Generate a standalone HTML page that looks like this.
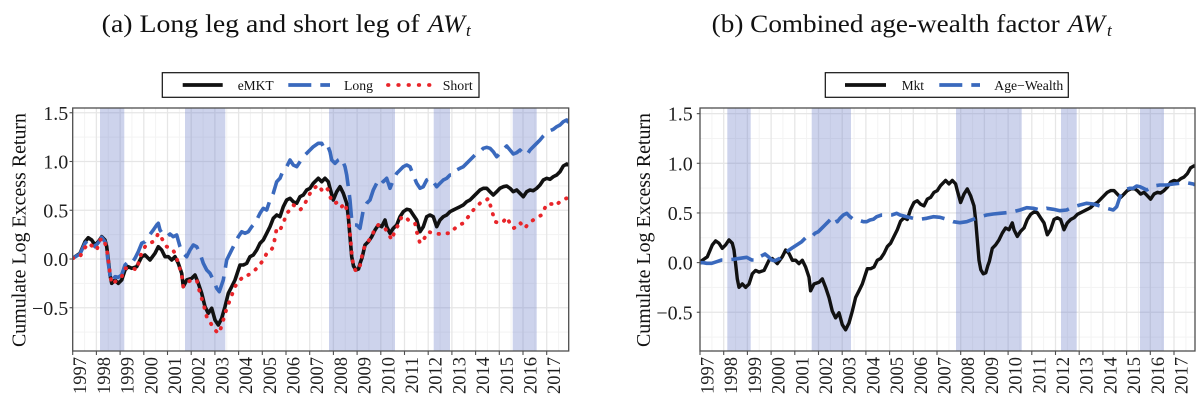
<!DOCTYPE html>
<html>
<head>
<meta charset="utf-8">
<style>
  html,body{margin:0;padding:0;background:#fff;}
  svg{display:block;}
  text{font-family:"Liberation Serif","DejaVu Serif",serif;}
</style>
</head>
<body>
<svg width="1200" height="413" viewBox="0 0 1200 413" xmlns="http://www.w3.org/2000/svg">
<defs>
  <clipPath id="cl"><rect x="72.7" y="108" width="496" height="243"/></clipPath>
  <clipPath id="cr"><rect x="700" y="108" width="495" height="243"/></clipPath>
</defs>
<rect width="1200" height="413" fill="#fff"/>

<!-- Titles -->
<text x="101.7" y="32" font-size="25" textLength="318" lengthAdjust="spacingAndGlyphs" fill="#111">(a) Long leg and short leg of</text>
<text x="428" y="32" font-size="25" font-style="italic" textLength="37" lengthAdjust="spacingAndGlyphs" fill="#111">AW</text>
<text x="466" y="36" font-size="17" font-style="italic" fill="#111">t</text>

<text x="711.7" y="32" font-size="25" textLength="348" lengthAdjust="spacingAndGlyphs" fill="#111">(b) Combined age-wealth factor</text>
<text x="1068" y="32" font-size="25" font-style="italic" textLength="37" lengthAdjust="spacingAndGlyphs" fill="#111">AW</text>
<text x="1107" y="36" font-size="17" font-style="italic" fill="#111">t</text>

<!-- ===== LEFT PANEL ===== -->
<g>
  <rect x="72.7" y="108" width="496" height="243" fill="#fff"/>
  <g stroke="#f3f3f3" stroke-width="1">
    <line x1="72.7" x2="568.7" y1="137.1" y2="137.1"/>
    <line x1="72.7" x2="568.7" y1="185.9" y2="185.9"/>
    <line x1="72.7" x2="568.7" y1="234.6" y2="234.6"/>
    <line x1="72.7" x2="568.7" y1="283.4" y2="283.4"/>
    <line x1="72.7" x2="568.7" y1="332.1" y2="332.1"/>
  </g>
  <g stroke="#f3f3f3" stroke-width="1">
    <line y1="108" y2="351" x1="84.55" x2="84.55"/><line y1="108" y2="351" x1="108.25" x2="108.25"/>
    <line y1="108" y2="351" x1="131.95" x2="131.95"/><line y1="108" y2="351" x1="155.65" x2="155.65"/>
    <line y1="108" y2="351" x1="179.35" x2="179.35"/><line y1="108" y2="351" x1="203.05" x2="203.05"/>
    <line y1="108" y2="351" x1="226.75" x2="226.75"/><line y1="108" y2="351" x1="250.45" x2="250.45"/>
    <line y1="108" y2="351" x1="274.15" x2="274.15"/><line y1="108" y2="351" x1="297.85" x2="297.85"/>
    <line y1="108" y2="351" x1="321.55" x2="321.55"/><line y1="108" y2="351" x1="345.25" x2="345.25"/>
    <line y1="108" y2="351" x1="368.95" x2="368.95"/><line y1="108" y2="351" x1="392.65" x2="392.65"/>
    <line y1="108" y2="351" x1="416.35" x2="416.35"/><line y1="108" y2="351" x1="440.05" x2="440.05"/>
    <line y1="108" y2="351" x1="463.75" x2="463.75"/><line y1="108" y2="351" x1="487.45" x2="487.45"/>
    <line y1="108" y2="351" x1="511.15" x2="511.15"/><line y1="108" y2="351" x1="534.85" x2="534.85"/>
    <line y1="108" y2="351" x1="558.55" x2="558.55"/>
  </g>
  <g stroke="#e6e6e6" stroke-width="1.3">
    <line x1="72.7" x2="568.7" y1="112.75" y2="112.75"/>
    <line x1="72.7" x2="568.7" y1="161.5" y2="161.5"/>
    <line x1="72.7" x2="568.7" y1="210.25" y2="210.25"/>
    <line x1="72.7" x2="568.7" y1="259" y2="259"/>
    <line x1="72.7" x2="568.7" y1="307.75" y2="307.75"/>
  </g>
  <g stroke="#e6e6e6" stroke-width="1.3">
    <line y1="108" y2="351" x1="96.4" x2="96.4"/><line y1="108" y2="351" x1="120.1" x2="120.1"/>
    <line y1="108" y2="351" x1="143.8" x2="143.8"/><line y1="108" y2="351" x1="167.5" x2="167.5"/>
    <line y1="108" y2="351" x1="191.2" x2="191.2"/><line y1="108" y2="351" x1="214.9" x2="214.9"/>
    <line y1="108" y2="351" x1="238.6" x2="238.6"/><line y1="108" y2="351" x1="262.3" x2="262.3"/>
    <line y1="108" y2="351" x1="286" x2="286"/><line y1="108" y2="351" x1="309.7" x2="309.7"/>
    <line y1="108" y2="351" x1="333.4" x2="333.4"/><line y1="108" y2="351" x1="357.1" x2="357.1"/>
    <line y1="108" y2="351" x1="380.8" x2="380.8"/><line y1="108" y2="351" x1="404.5" x2="404.5"/>
    <line y1="108" y2="351" x1="428.2" x2="428.2"/><line y1="108" y2="351" x1="451.9" x2="451.9"/>
    <line y1="108" y2="351" x1="475.6" x2="475.6"/><line y1="108" y2="351" x1="499.3" x2="499.3"/>
    <line y1="108" y2="351" x1="523" x2="523"/><line y1="108" y2="351" x1="546.7" x2="546.7"/>
  </g>
  <g fill="#7080c8" fill-opacity="0.35">
    <rect x="100" y="108" width="24.3" height="243"/>
    <rect x="185" y="108" width="40.3" height="243"/>
    <rect x="329" y="108" width="66" height="243"/>
    <rect x="433.7" y="108" width="16.3" height="243"/>
    <rect x="512.7" y="108" width="24" height="243"/>
  </g>
  <g clip-path="url(#cl)" fill="none" stroke-linejoin="round">
    <path stroke="#111" stroke-width="3.6" d="M72.7,258.3 L80,253.3 85,241.7 88.3,237.7 91.7,240 95,245 98.3,241.7 101.7,236.7 105,240 106.7,246.7 108.3,260 110,275 111.7,283.3 115,280 118.3,283.3 121.7,280 125,270 128.3,266.7 131.7,268.3 136.7,266.7 141.7,256.7 145,255 150,260 155,253.3 158.3,246.7 161.7,250 165,256.7 168.3,256.7 171.7,260 175,256.7 178.3,263.3 181.7,273.3 183.3,286.7 186.7,280 191.7,278.3 195,275 198.3,283.3 201.7,293.3 205,306.7 208.3,313.3 211.7,308.3 215,320 218.3,325 221.7,318.3 225,306.7 228.3,293.3 231.7,286.7 235,280 240,265 243.3,265 246.7,263.3 250,256.7 253.3,255 256.7,250 260,243.3 263.3,240 266.7,233.3 270,226.7 273.3,218.3 276.7,215 280,216.7 283.3,206.7 286.7,200 290,198.3 293.3,201.7 296.7,203.3 300,196.7 303.3,195 306.7,190 310,188.3 313.3,183.3 318.3,178.3 321.7,181.7 325,178.3 328.3,181.7 330,188.3 333.3,200 336.7,191.7 340,186.7 343.3,193.3 346.7,203.3 348.3,216.7 350,236.7 351.7,256.7 353.5,266 356,270 358.5,269 360.5,262 362,258 365,245 368.3,241.7 371.7,236.7 375,230 378.3,225 381.7,226.7 385,220 386.7,226.7 390,233.3 393.3,228.3 396.7,225 400,216.7 403.3,211.7 406.7,209.3 410,210 413.3,215 416.7,220 420,231.7 423.3,226.7 426.7,216.7 430,215 433.3,216.7 436.7,226.7 440,220 443.3,216.7 446.7,215 450,211.7 453.3,210 456.7,208.3 460,206.7 463.3,205 466.7,201.7 470,200 473.3,196.7 476.7,193.3 480,190 483.3,188.3 486.7,188.3 490,191.7 493.3,195 496.7,191.7 500,188.3 503.3,186.7 506.7,186 510,188.3 513.3,191.7 516.7,190 520,193.3 523.3,196.7 526.7,191.7 530,190 533.3,190.7 536.7,188.3 540,185 543.3,180 546.7,178.3 550,179.3 553.3,176.7 556.7,175 560,171.7 563.3,166 566.7,164 568.7,165"/>
    <path stroke="#3a69bd" stroke-width="3.6" stroke-dasharray="23 9" d="M72.7,258.3 L80,254 85,243.3 88.3,240 91.7,241.7 95,246.7 98.3,242.7 101.7,237.3 105,241.7 106.7,250 108.3,263.3 110,275 111.7,281.7 115,276.7 118.3,277.3 121.7,275 125,265 128.3,261.7 131.7,263.3 135,258.3 138.3,251.7 141.7,243.3 145,241.7 148.3,236.7 153.3,230 156.7,225 158.3,223.3 160,230 163.3,235 166.7,236.7 170,234 173.3,236.7 176.7,235 180,246.7 183.3,253.3 186.7,256.7 190,250 193.3,245 196.7,246.7 200,253.3 203.3,263.3 206.7,270 210,273.3 213.3,280 216.7,288.3 219.3,291.7 223.3,280 226.7,260 230,253.3 233.3,246.7 238.3,236.7 241.7,231.7 245,233.3 248.3,231.7 251.7,226.7 255,223.3 260,213.3 263.3,208.3 266.7,210 270,200 273.3,193.3 276.7,181.7 280,178.3 283.3,170 286.7,166.7 290,160 293.3,165 296.7,166.7 300,161.7 303.3,156.7 306.7,153.3 310,150 313.3,146.7 318.3,143.3 321.7,143.3 325,150 328.3,147.3 330,151.7 331.7,160 335,163.3 338.3,160 341.7,158.3 345,166.7 346.7,175 348.3,186.7 350,200 351.7,220 353.3,225 356.7,225 360,228.3 363.3,210 366.7,203.3 370,200 373.3,190 376.7,183.3 380,178.3 383.3,181.7 386.7,178.3 390,188.3 393.3,180 396.7,173.3 400,170 403.3,166.7 406.7,165 410,166.7 413.3,175 416.7,183.3 420,188.3 423.3,186.7 426.7,180 430,178.3 433.3,181.7 436.7,186.7 440,183.3 443.3,180 446.7,178.3 450,175 453.3,175 456.7,170 460,168.3 463.3,166.7 466.7,163.3 470,160 473.3,156.7 476.7,153.3 480,151.7 483.3,148.3 486.7,147.3 490,148.3 493.3,151.7 496.7,156.7 500,153.3 503.3,149.3 506.7,146 510,150 513.3,154 516.7,152.7 520,150 523.3,153.3 526.7,155 530,150 533.3,146.7 536.7,143.3 540,140 543.3,136 546.7,132.7 550,130.7 553.3,129.3 556.7,126.7 560,125 563.3,121.7 566.7,120 568.7,122.7"/>
    <path stroke="#e8252a" stroke-width="3.8" stroke-linecap="round" stroke-dasharray="0.5 8.5" d="M72.7,258.3 L80,256.7 83.3,250 88.3,243.3 93.3,246.7 96.7,250 100,240 103.3,238.3 106.7,248.3 110,273.3 111.7,284 115,281.7 118.3,280 121.7,276.7 125,268.3 128.3,268.3 133.3,268.3 136.7,270 140,256.7 145,246.7 148.3,243.3 153.3,241.7 156.7,236.7 158.3,233.3 161.7,238.3 166.7,246.7 171.7,248.3 175,253.3 178.3,263.3 181.7,275 183.3,286.7 188.3,281.7 191.7,280 196.7,280 200,293.3 203.3,303.3 206.7,316.7 210,321.7 213.3,328.3 216.7,331.7 219.3,333.3 223.3,320 226.7,308.3 230,300 235,286.7 238.3,281.7 241.7,278.3 245,278.3 248.3,275 253.3,271.7 258.3,266.7 263.3,260 266.7,253.3 270,251.7 273.3,246.7 276.7,228.3 280,230 283.3,223.3 286.7,213.3 290,210 293.3,205 296.7,206.7 300,210 303.3,206.7 306.7,200 311.7,190 318.3,185 321.7,190 325,186.7 328.3,190 331.7,201.7 335,203.3 338.3,201.7 341.7,206.7 345,203.3 346.7,210 348.3,216.7 350,233.3 351.7,253.3 353.5,267 356,271 358.5,270 360.5,264 363,250 366.7,243.3 371.7,236.7 375,228.3 378.3,225 381.7,226.7 385,228.3 388.3,233.3 391.7,240 395,230 398.3,225 401.7,216.7 405,216.7 410,221.7 415,223.3 416.7,231.7 420,243.3 423.3,240 428.3,231.7 433.3,233.3 440,234 445,233.3 450,233.3 453.3,230 458.3,225 463.3,223.3 468.3,216.7 471.7,211.7 476.7,206.7 480,203.3 485,201.7 488.3,198.3 491.7,210 495,221.7 500,223.3 503.3,221.7 506.7,217.3 510,223.3 513.3,228.3 516.7,226.7 520,222.7 525,228.3 528.3,223.3 533.3,220 538.3,216.7 541.7,215 546.7,204 551.7,204 555,206 560,201.7 563.3,199.3 566.7,198.3"/>
  </g>
  <rect x="72.7" y="108" width="496" height="243" fill="none" stroke="#4d4d4d" stroke-width="1.3"/>
  <g stroke="#4d4d4d" stroke-width="1.1">
    <line x1="69.5" x2="72.7" y1="112.75" y2="112.75"/>
    <line x1="69.5" x2="72.7" y1="161.5" y2="161.5"/>
    <line x1="69.5" x2="72.7" y1="210.25" y2="210.25"/>
    <line x1="69.5" x2="72.7" y1="259" y2="259"/>
    <line x1="69.5" x2="72.7" y1="307.75" y2="307.75"/>
  </g>
  <g font-size="20" fill="#1e1e1e" text-anchor="end">
    <text x="68.3" y="119.75">1.5</text>
    <text x="68.3" y="168.5">1.0</text>
    <text x="68.3" y="217.25">0.5</text>
    <text x="68.3" y="266">0.0</text>
    <text x="68.3" y="314.75">−0.5</text>
  </g>
  <g stroke="#4d4d4d" stroke-width="1.1">
    <line y1="351" y2="355" x1="72.7" x2="72.7"/><line y1="351" y2="355" x1="96.4" x2="96.4"/>
    <line y1="351" y2="355" x1="120.1" x2="120.1"/><line y1="351" y2="355" x1="143.8" x2="143.8"/>
    <line y1="351" y2="355" x1="167.5" x2="167.5"/><line y1="351" y2="355" x1="191.2" x2="191.2"/>
    <line y1="351" y2="355" x1="214.9" x2="214.9"/><line y1="351" y2="355" x1="238.6" x2="238.6"/>
    <line y1="351" y2="355" x1="262.3" x2="262.3"/><line y1="351" y2="355" x1="286" x2="286"/>
    <line y1="351" y2="355" x1="309.7" x2="309.7"/><line y1="351" y2="355" x1="333.4" x2="333.4"/>
    <line y1="351" y2="355" x1="357.1" x2="357.1"/><line y1="351" y2="355" x1="380.8" x2="380.8"/>
    <line y1="351" y2="355" x1="404.5" x2="404.5"/><line y1="351" y2="355" x1="428.2" x2="428.2"/>
    <line y1="351" y2="355" x1="451.9" x2="451.9"/><line y1="351" y2="355" x1="475.6" x2="475.6"/>
    <line y1="351" y2="355" x1="499.3" x2="499.3"/><line y1="351" y2="355" x1="523" x2="523"/>
    <line y1="351" y2="355" x1="546.7" x2="546.7"/>
  </g>
  <g font-size="18.5" fill="#1e1e1e" text-anchor="end">
    <text transform="translate(86.2,357) rotate(-90)">1997</text>
    <text transform="translate(109.9,357) rotate(-90)">1998</text>
    <text transform="translate(133.6,357) rotate(-90)">1999</text>
    <text transform="translate(157.3,357) rotate(-90)">2000</text>
    <text transform="translate(181,357) rotate(-90)">2001</text>
    <text transform="translate(204.7,357) rotate(-90)">2002</text>
    <text transform="translate(228.4,357) rotate(-90)">2003</text>
    <text transform="translate(252.1,357) rotate(-90)">2004</text>
    <text transform="translate(275.8,357) rotate(-90)">2005</text>
    <text transform="translate(299.5,357) rotate(-90)">2006</text>
    <text transform="translate(323.2,357) rotate(-90)">2007</text>
    <text transform="translate(346.9,357) rotate(-90)">2008</text>
    <text transform="translate(370.6,357) rotate(-90)">2009</text>
    <text transform="translate(394.3,357) rotate(-90)">2010</text>
    <text transform="translate(418,357) rotate(-90)">2011</text>
    <text transform="translate(441.7,357) rotate(-90)">2012</text>
    <text transform="translate(465.4,357) rotate(-90)">2013</text>
    <text transform="translate(489.1,357) rotate(-90)">2014</text>
    <text transform="translate(512.8,357) rotate(-90)">2015</text>
    <text transform="translate(536.5,357) rotate(-90)">2016</text>
    <text transform="translate(560.2,357) rotate(-90)">2017</text>
  </g>
  <text transform="translate(25.5,230) rotate(-90)" font-size="20" text-anchor="middle" textLength="234" lengthAdjust="spacingAndGlyphs" fill="#111">Cumulate Log Excess Return</text>
  <rect x="162.3" y="72.7" width="316.7" height="24.6" fill="#fff" stroke="#111" stroke-width="1.2"/>
  <line x1="182.7" x2="222.7" y1="85" y2="85" stroke="#111" stroke-width="3.8"/>
  <text x="237.7" y="90" font-size="14" textLength="36" lengthAdjust="spacingAndGlyphs" fill="#111">eMKT</text>
  <line x1="288.3" x2="330" y1="85" y2="85" stroke="#3a69bd" stroke-width="3.8" stroke-dasharray="23 9"/>
  <text x="344" y="90" font-size="14" textLength="29" lengthAdjust="spacingAndGlyphs" fill="#111">Long</text>
  <line x1="388" x2="430" y1="85" y2="85" stroke="#e8252a" stroke-width="3.8" stroke-linecap="round" stroke-dasharray="0.5 9.75"/>
  <text x="442.7" y="90" font-size="14" textLength="30" lengthAdjust="spacingAndGlyphs" fill="#111">Short</text>
</g>

<!-- ===== RIGHT PANEL ===== -->
<g>
  <rect x="700" y="108" width="495" height="243" fill="#fff"/>
  <g stroke="#f3f3f3" stroke-width="1">
    <line x1="700" x2="1195" y1="138.5" y2="138.5"/>
    <line x1="700" x2="1195" y1="188.1" y2="188.1"/>
    <line x1="700" x2="1195" y1="237.8" y2="237.8"/>
    <line x1="700" x2="1195" y1="287.4" y2="287.4"/>
    <line x1="700" x2="1195" y1="337.1" y2="337.1"/>
  </g>
  <g stroke="#f3f3f3" stroke-width="1">
    <line y1="108" y2="351" x1="711.85" x2="711.85"/><line y1="108" y2="351" x1="735.55" x2="735.55"/>
    <line y1="108" y2="351" x1="759.25" x2="759.25"/><line y1="108" y2="351" x1="782.95" x2="782.95"/>
    <line y1="108" y2="351" x1="806.65" x2="806.65"/><line y1="108" y2="351" x1="830.35" x2="830.35"/>
    <line y1="108" y2="351" x1="854.05" x2="854.05"/><line y1="108" y2="351" x1="877.75" x2="877.75"/>
    <line y1="108" y2="351" x1="901.45" x2="901.45"/><line y1="108" y2="351" x1="925.15" x2="925.15"/>
    <line y1="108" y2="351" x1="948.85" x2="948.85"/><line y1="108" y2="351" x1="972.55" x2="972.55"/>
    <line y1="108" y2="351" x1="996.25" x2="996.25"/><line y1="108" y2="351" x1="1019.95" x2="1019.95"/>
    <line y1="108" y2="351" x1="1043.65" x2="1043.65"/><line y1="108" y2="351" x1="1067.35" x2="1067.35"/>
    <line y1="108" y2="351" x1="1091.05" x2="1091.05"/><line y1="108" y2="351" x1="1114.75" x2="1114.75"/>
    <line y1="108" y2="351" x1="1138.45" x2="1138.45"/><line y1="108" y2="351" x1="1162.15" x2="1162.15"/>
    <line y1="108" y2="351" x1="1185.85" x2="1185.85"/>
  </g>
  <g stroke="#e6e6e6" stroke-width="1.3">
    <line x1="700" x2="1195" y1="113.65" y2="113.65"/>
    <line x1="700" x2="1195" y1="163.3" y2="163.3"/>
    <line x1="700" x2="1195" y1="212.95" y2="212.95"/>
    <line x1="700" x2="1195" y1="262.6" y2="262.6"/>
    <line x1="700" x2="1195" y1="312.25" y2="312.25"/>
  </g>
  <g stroke="#e6e6e6" stroke-width="1.3">
    <line y1="108" y2="351" x1="723.7" x2="723.7"/><line y1="108" y2="351" x1="747.4" x2="747.4"/>
    <line y1="108" y2="351" x1="771.1" x2="771.1"/><line y1="108" y2="351" x1="794.8" x2="794.8"/>
    <line y1="108" y2="351" x1="818.5" x2="818.5"/><line y1="108" y2="351" x1="842.2" x2="842.2"/>
    <line y1="108" y2="351" x1="865.9" x2="865.9"/><line y1="108" y2="351" x1="889.6" x2="889.6"/>
    <line y1="108" y2="351" x1="913.3" x2="913.3"/><line y1="108" y2="351" x1="937" x2="937"/>
    <line y1="108" y2="351" x1="960.7" x2="960.7"/><line y1="108" y2="351" x1="984.4" x2="984.4"/>
    <line y1="108" y2="351" x1="1008.1" x2="1008.1"/><line y1="108" y2="351" x1="1031.8" x2="1031.8"/>
    <line y1="108" y2="351" x1="1055.5" x2="1055.5"/><line y1="108" y2="351" x1="1079.2" x2="1079.2"/>
    <line y1="108" y2="351" x1="1102.9" x2="1102.9"/><line y1="108" y2="351" x1="1126.6" x2="1126.6"/>
    <line y1="108" y2="351" x1="1150.3" x2="1150.3"/><line y1="108" y2="351" x1="1174" x2="1174"/>
  </g>
  <g fill="#7080c8" fill-opacity="0.35">
    <rect x="727.3" y="108" width="23.4" height="243"/>
    <rect x="811.7" y="108" width="39.3" height="243"/>
    <rect x="956" y="108" width="65.7" height="243"/>
    <rect x="1061" y="108" width="15.7" height="243"/>
    <rect x="1140" y="108" width="24" height="243"/>
  </g>
  <g clip-path="url(#cr)" fill="none" stroke-linejoin="round">
    <g transform="translate(627.3,-1.18) scale(1,1.01846)">
      <path vector-effect="non-scaling-stroke" stroke="#111" stroke-width="3.4" d="M72.7,258.3 L80,253.3 85,241.7 88.3,237.7 91.7,240 95,245 98.3,241.7 101.7,236.7 105,240 106.7,246.7 108.3,260 110,275 111.7,283.3 115,280 118.3,283.3 121.7,280 125,270 128.3,266.7 131.7,268.3 136.7,266.7 141.7,256.7 145,255 150,260 155,253.3 158.3,246.7 161.7,250 165,256.7 168.3,256.7 171.7,260 175,256.7 178.3,263.3 181.7,273.3 183.3,286.7 186.7,280 191.7,278.3 195,275 198.3,283.3 201.7,293.3 205,306.7 208.3,313.3 211.7,308.3 215,320 218.3,325 221.7,318.3 225,306.7 228.3,293.3 231.7,286.7 235,280 240,265 243.3,265 246.7,263.3 250,256.7 253.3,255 256.7,250 260,243.3 263.3,240 266.7,233.3 270,226.7 273.3,218.3 276.7,215 280,216.7 283.3,206.7 286.7,200 290,198.3 293.3,201.7 296.7,203.3 300,196.7 303.3,195 306.7,190 310,188.3 313.3,183.3 318.3,178.3 321.7,181.7 325,178.3 328.3,181.7 330,188.3 333.3,200 336.7,191.7 340,186.7 343.3,193.3 346.7,203.3 348.3,216.7 350,236.7 351.7,256.7 353.5,266 356,270 358.5,269 360.5,262 362,258 365,245 368.3,241.7 371.7,236.7 375,230 378.3,225 381.7,226.7 385,220 386.7,226.7 390,233.3 393.3,228.3 396.7,225 400,216.7 403.3,211.7 406.7,209.3 410,210 413.3,215 416.7,220 420,231.7 423.3,226.7 426.7,216.7 430,215 433.3,216.7 436.7,226.7 440,220 443.3,216.7 446.7,215 450,211.7 453.3,210 456.7,208.3 460,206.7 463.3,205 466.7,201.7 470,200 473.3,196.7 476.7,193.3 480,190 483.3,188.3 486.7,188.3 490,191.7 493.3,195 496.7,191.7 500,188.3 503.3,186.7 506.7,186 510,188.3 513.3,191.7 516.7,190 520,193.3 523.3,196.7 526.7,191.7 530,190 533.3,190.7 536.7,188.3 540,185 543.3,180 546.7,178.3 550,179.3 553.3,176.7 556.7,175 560,171.7 563.3,166 566.7,164 568.7,165"/>
    </g>
    <path stroke="#3a69bd" stroke-width="3.6" stroke-dasharray="23 9" d="M700,262.7 L703.3,262.7 706.7,263.3 711.7,263.3 716.7,261.7 721.7,260 726.7,260 733.3,259.3 740,258.3 746.7,257.3 751.7,260 756.7,260 760,256.7 765,254 768.3,256.7 771.7,260 775,260.7 780,258.3 783.3,255 786.7,251.7 791.7,248.3 796.7,245 801.7,241.7 806.7,236.7 811.7,236.7 815,233.3 818.3,231.7 821.7,228.3 825,225 828.3,221.7 831.7,218.3 835,216.7 837.3,221.7 840,218.3 843.3,215 846.7,213.3 850,216.7 853.3,219.3 858.3,220 863.3,221.7 866.7,221.7 870,220 873.3,219.3 876.7,216.7 881.7,215 886.7,215 891.7,215 896.7,213.3 900,215 906.7,216.7 913.3,218.3 920,219.3 926.7,218.3 933.3,216.7 940,217.3 946.7,219.3 953.3,221.7 960,222.7 966.7,221.7 973.3,219.3 980,216.7 986.7,215 993.3,214 1000,213.3 1006.7,212.7 1013.3,211.7 1020,210 1026.7,207.7 1033.3,208.3 1040,210 1046.7,208.3 1053.3,209.3 1060,210.7 1066.7,210 1073.3,206.7 1080,205 1086.7,203.3 1093.3,204 1100,206 1106.7,208.3 1113.3,210 1116.7,206.7 1120,196.7 1123.3,190 1130,188.3 1133.3,188.3 1136.7,186 1140,186.7 1146.7,190 1153.3,186 1160,185 1166.7,185 1173.3,184 1180,183.3 1186.7,182.7 1193.3,184 1195,185"/>
  </g>
  <rect x="700" y="108" width="495" height="243" fill="none" stroke="#4d4d4d" stroke-width="1.3"/>
  <g stroke="#4d4d4d" stroke-width="1.1">
    <line x1="696.8" x2="700" y1="113.65" y2="113.65"/>
    <line x1="696.8" x2="700" y1="163.3" y2="163.3"/>
    <line x1="696.8" x2="700" y1="212.95" y2="212.95"/>
    <line x1="696.8" x2="700" y1="262.6" y2="262.6"/>
    <line x1="696.8" x2="700" y1="312.25" y2="312.25"/>
  </g>
  <g font-size="20" fill="#1e1e1e" text-anchor="end">
    <text x="692.7" y="120.65">1.5</text>
    <text x="692.7" y="170.3">1.0</text>
    <text x="692.7" y="219.95">0.5</text>
    <text x="692.7" y="269.6">0.0</text>
    <text x="692.7" y="319.25">−0.5</text>
  </g>
  <g stroke="#4d4d4d" stroke-width="1.1">
    <line y1="351" y2="355" x1="700" x2="700"/><line y1="351" y2="355" x1="723.7" x2="723.7"/>
    <line y1="351" y2="355" x1="747.4" x2="747.4"/><line y1="351" y2="355" x1="771.1" x2="771.1"/>
    <line y1="351" y2="355" x1="794.8" x2="794.8"/><line y1="351" y2="355" x1="818.5" x2="818.5"/>
    <line y1="351" y2="355" x1="842.2" x2="842.2"/><line y1="351" y2="355" x1="865.9" x2="865.9"/>
    <line y1="351" y2="355" x1="889.6" x2="889.6"/><line y1="351" y2="355" x1="913.3" x2="913.3"/>
    <line y1="351" y2="355" x1="937" x2="937"/><line y1="351" y2="355" x1="960.7" x2="960.7"/>
    <line y1="351" y2="355" x1="984.4" x2="984.4"/><line y1="351" y2="355" x1="1008.1" x2="1008.1"/>
    <line y1="351" y2="355" x1="1031.8" x2="1031.8"/><line y1="351" y2="355" x1="1055.5" x2="1055.5"/>
    <line y1="351" y2="355" x1="1079.2" x2="1079.2"/><line y1="351" y2="355" x1="1102.9" x2="1102.9"/>
    <line y1="351" y2="355" x1="1126.6" x2="1126.6"/><line y1="351" y2="355" x1="1150.3" x2="1150.3"/>
    <line y1="351" y2="355" x1="1174" x2="1174"/>
  </g>
  <g font-size="18.5" fill="#1e1e1e" text-anchor="end">
    <text transform="translate(713.5,357) rotate(-90)">1997</text>
    <text transform="translate(737.2,357) rotate(-90)">1998</text>
    <text transform="translate(760.9,357) rotate(-90)">1999</text>
    <text transform="translate(784.6,357) rotate(-90)">2000</text>
    <text transform="translate(808.3,357) rotate(-90)">2001</text>
    <text transform="translate(832,357) rotate(-90)">2002</text>
    <text transform="translate(855.7,357) rotate(-90)">2003</text>
    <text transform="translate(879.4,357) rotate(-90)">2004</text>
    <text transform="translate(903.1,357) rotate(-90)">2005</text>
    <text transform="translate(926.8,357) rotate(-90)">2006</text>
    <text transform="translate(950.5,357) rotate(-90)">2007</text>
    <text transform="translate(974.2,357) rotate(-90)">2008</text>
    <text transform="translate(997.9,357) rotate(-90)">2009</text>
    <text transform="translate(1021.6,357) rotate(-90)">2010</text>
    <text transform="translate(1045.3,357) rotate(-90)">2011</text>
    <text transform="translate(1069,357) rotate(-90)">2012</text>
    <text transform="translate(1092.7,357) rotate(-90)">2013</text>
    <text transform="translate(1116.4,357) rotate(-90)">2014</text>
    <text transform="translate(1140.1,357) rotate(-90)">2015</text>
    <text transform="translate(1163.8,357) rotate(-90)">2016</text>
    <text transform="translate(1187.5,357) rotate(-90)">2017</text>
  </g>
  <text transform="translate(650,230) rotate(-90)" font-size="20" text-anchor="middle" textLength="234" lengthAdjust="spacingAndGlyphs" fill="#111">Cumulate Log Excess Return</text>
  <rect x="825.3" y="72.7" width="243" height="24.6" fill="#fff" stroke="#111" stroke-width="1.2"/>
  <line x1="845" x2="886" y1="85" y2="85" stroke="#111" stroke-width="3.8"/>
  <text x="901.7" y="90" font-size="14" textLength="22.3" lengthAdjust="spacingAndGlyphs" fill="#111">Mkt</text>
  <line x1="939.3" x2="980" y1="85" y2="85" stroke="#3a69bd" stroke-width="3.8" stroke-dasharray="23 9"/>
  <text x="994.3" y="90" font-size="14" textLength="69" lengthAdjust="spacingAndGlyphs" fill="#111">Age−Wealth</text>
</g>
</svg>
</body>
</html>
